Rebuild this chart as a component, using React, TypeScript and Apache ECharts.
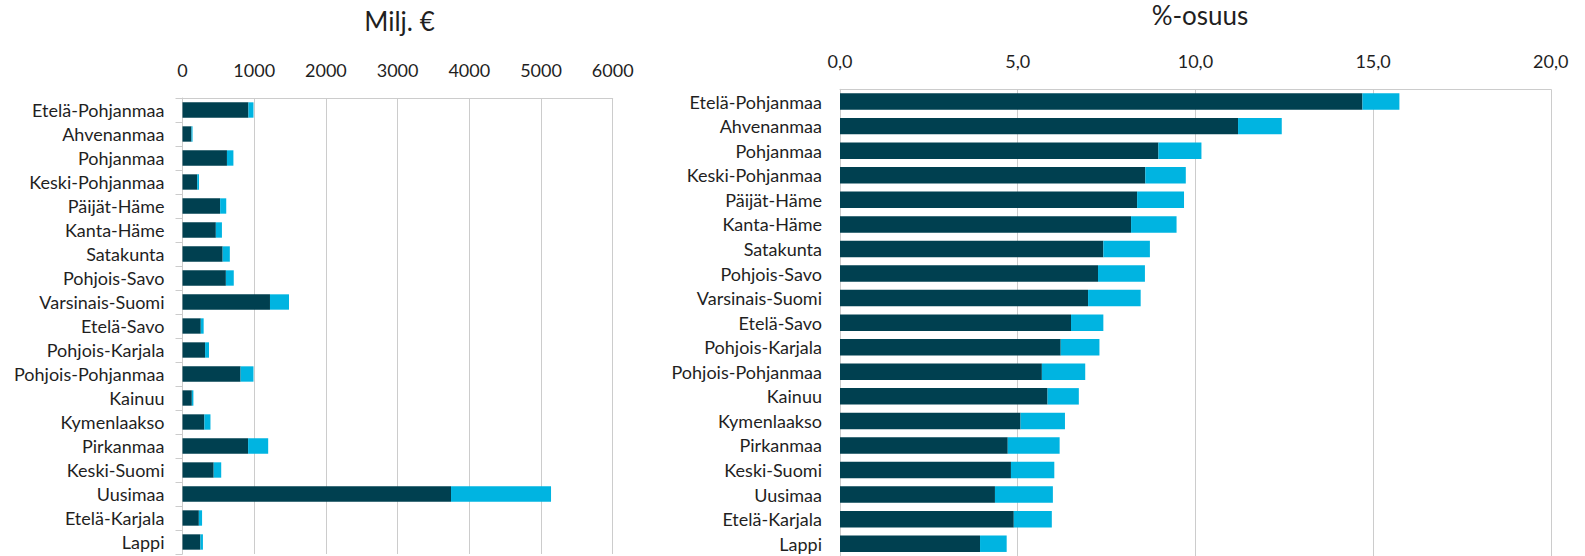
import React, { useEffect, useRef } from "react";
import * as echarts from "echarts";

const regions = [
  "Etelä-Pohjanmaa", "Ahvenanmaa", "Pohjanmaa", "Keski-Pohjanmaa", "Päijät-Häme",
  "Kanta-Häme", "Satakunta", "Pohjois-Savo", "Varsinais-Suomi", "Etelä-Savo",
  "Pohjois-Karjala", "Pohjois-Pohjanmaa", "Kainuu", "Kymenlaakso", "Pirkanmaa",
  "Keski-Suomi", "Uusimaa", "Etelä-Karjala", "Lappi",
];

// Milj. € (dark = main part, light = additional part)
const euroDark = [920, 125, 620, 205, 525, 465, 560, 605, 1220, 255, 315, 810, 130, 305, 915, 435, 3745, 228, 250];
const euroLight = [70, 15, 90, 25, 85, 85, 100, 110, 265, 40, 55, 180, 22, 85, 280, 105, 1395, 45, 35];

// %-osuus
const shareDark = [14.7, 11.2, 8.96, 8.59, 8.36, 8.19, 7.41, 7.26, 6.98, 6.5, 6.21, 5.68, 5.84, 5.08, 4.72, 4.81, 4.36, 4.89, 3.94];
const shareLight = [1.04, 1.23, 1.21, 1.14, 1.32, 1.28, 1.31, 1.32, 1.48, 0.91, 1.09, 1.22, 0.88, 1.25, 1.46, 1.22, 1.63, 1.07, 0.75];

const euroTicks = { min: 0, max: 6000, interval: 1000 };
const shareTicks = { min: 0, max: 20, interval: 5 };

const DARK = "#004050";
const LIGHT = "#00B4E1";
const GRID = "#cccccc";
const TEXT = "#1f1f1f";
const FONT = "Lato, 'Noto Sans', sans-serif";

export default function App() {
  const ref = useRef<HTMLDivElement>(null);
  useEffect(() => {
    if (!ref.current) return;
    const chart = echarts.init(ref.current, null, { renderer: "svg" });
    const catAxis = (gridIndex: number, ticks: boolean) => ({
      type: "category",
      gridIndex,
      data: regions,
      inverse: true,
      axisLine: { show: true, lineStyle: { color: GRID, width: 1 } },
      axisTick: { show: ticks, length: 7, interval: 0, lineStyle: { color: GRID } },
      axisLabel: { color: TEXT, fontFamily: FONT, fontSize: 18, margin: 18, interval: 0 },
      splitLine: { show: false },
    });
    const valAxis = (gridIndex: number, t: any, fmt: (v: number) => string) => ({
      type: "value",
      gridIndex,
      position: "top",
      min: t.min,
      max: t.max,
      interval: t.interval,
      axisLine: { show: true, lineStyle: { color: GRID, width: 1 } },
      axisTick: { show: false },
      axisLabel: { color: TEXT, fontFamily: FONT, fontSize: 18, margin: 19, formatter: fmt },
      splitLine: { show: true, lineStyle: { color: GRID, width: 1 } },
    });
    chart.setOption({
      animation: false,
      textStyle: { fontFamily: FONT },
      grid: [
        { left: 182.5, top: 98, width: 430.2, height: 456, containLabel: false },
        { left: 840, top: 89.3, width: 710.8, height: 468.4, containLabel: false },
      ],
      xAxis: [
        valAxis(0, euroTicks, (v: number) => String(v)),
        valAxis(1, shareTicks, (v: number) => v.toFixed(1).replace(".", ",")),
      ],
      yAxis: [catAxis(0, true), catAxis(1, false)],
      series: [
        { type: "bar", xAxisIndex: 0, yAxisIndex: 0, stack: "e", data: euroDark, itemStyle: { color: DARK }, barCategoryGap: "36%" },
        { type: "bar", xAxisIndex: 0, yAxisIndex: 0, stack: "e", data: euroLight, itemStyle: { color: LIGHT }, barCategoryGap: "36%" },
        { type: "bar", xAxisIndex: 1, yAxisIndex: 1, stack: "s", data: shareDark, itemStyle: { color: DARK }, barCategoryGap: "33%" },
        { type: "bar", xAxisIndex: 1, yAxisIndex: 1, stack: "s", data: shareLight, itemStyle: { color: LIGHT }, barCategoryGap: "33%" },
      ],
      graphic: [
        { type: "text", x: 399.5, y: 21, style: { text: "Milj. €", fontFamily: FONT, fontSize: 26, fill: TEXT, textAlign: "center", textVerticalAlign: "middle" } },
        { type: "text", x: 1200, y: 15, style: { text: "%-osuus", fontFamily: FONT, fontSize: 26, fill: TEXT, textAlign: "center", textVerticalAlign: "middle" } },
      ],
    });
    return () => chart.dispose();
  }, []);
  return <div ref={ref} style={{ position: "absolute", left: 0, top: 0, width: 1585, height: 556 }} />;
}
